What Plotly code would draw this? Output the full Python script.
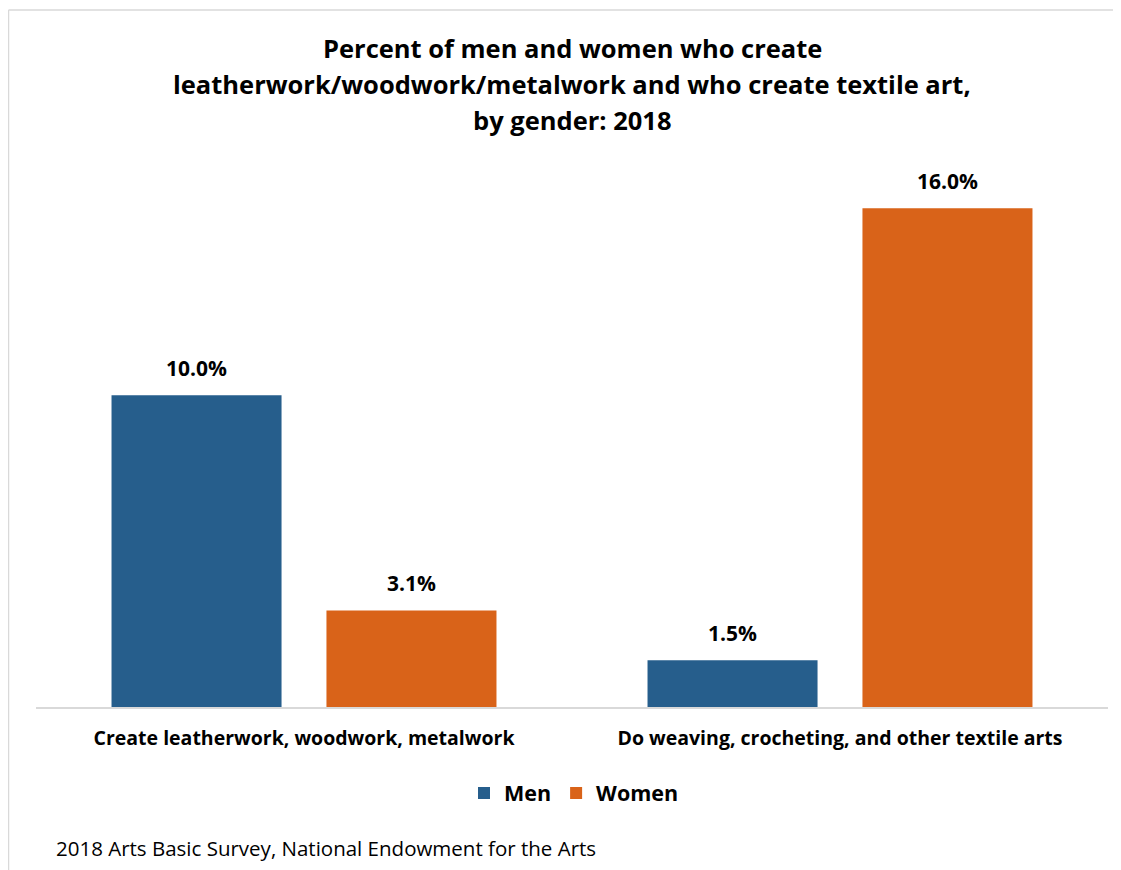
import plotly.graph_objects as go

categories = ["Create leatherwork, woodwork, metalwork",
              "Do weaving, crocheting, and other textile arts"]
men = [10.0, 1.5]
women = [3.1, 16.0]
series_names = ["Men", "Women"]
colors = ["#265E8C", "#D96319"]
title_lines = ["Percent of men and women who create",
               "leatherwork/woodwork/metalwork and who create textile art,",
               "by gender: 2018"]
source = "2018 Arts Basic Survey, National Endowment for the Arts"

OFF = 8  # page body margin
W, H = 1121 - OFF, 870 - OFF
L = 36 - OFF
R = W - (1108 - OFF)
T = 146 - OFF
B = H - (707 - OFF)
PH = H - T - B
PW = W - L - R
FONT = "Open Sans"

def px_y(Y):
    return (H - B - (Y - OFF)) / PH

def px_x(X):
    return ((X - OFF) - L) / PW

fig = go.Figure()
for name, vals, col in zip(series_names, [men, women], colors):
    fig.add_trace(go.Bar(x=categories, y=vals, name=f"<b>{name}</b>", marker_color=col,
                         marker_line_width=0))

slot = 215
anns = []
for i, vals in enumerate([men, women]):
    shift = (-0.5 if i == 0 else 0.5) * slot
    for c, v in zip(categories, vals):
        anns.append(dict(x=c, y=v, xref="x", yref="y", text=f"<b>{v:.1f}%</b>",
                         showarrow=False, xshift=shift, yanchor="bottom", yshift=11,
                         font=dict(family=FONT, size=21, color="#000000")))

for line, Y in zip(title_lines, [48, 84, 120]):
    anns.append(dict(x=px_x(572), y=px_y(Y), xref="paper", yref="paper",
                     text=f"<b>{line}</b>", showarrow=False, xanchor="center",
                     yanchor="middle", font=dict(family=FONT, size=25.5, color="#000000")))

anns.append(dict(x=px_x(54), y=px_y(848), xref="paper", yref="paper", text=source,
                 showarrow=False, xanchor="left", yanchor="middle",
                 font=dict(family=FONT, size=20.5, color="#000000")))

shapes = [
    dict(type="line", xref="paper", yref="paper", x0=px_x(8.5), x1=px_x(1121),
         y0=px_y(10), y1=px_y(10), line=dict(color="#D9D9D9", width=1.5)),
    dict(type="line", xref="paper", yref="paper", x0=px_x(8.5), x1=px_x(8.5),
         y0=px_y(10), y1=px_y(870), line=dict(color="#D9D9D9", width=1.5)),
]

fig.update_layout(
    width=W, height=H,
    margin=dict(l=L, r=R, t=T, b=B, autoexpand=False),
    paper_bgcolor="white", plot_bgcolor="white",
    barmode="group", bargap=0.198, bargroupgap=0.209,
    showlegend=True,
    legend=dict(orientation="h", x=px_x(574), xanchor="center", y=px_y(793), yanchor="middle",
                font=dict(family=FONT, size=21.5, color="#000000"),
                traceorder="normal"),
    annotations=anns, shapes=shapes,
    xaxis=dict(showline=True, linecolor="#D9D9D9", linewidth=2, ticks="",
               tickvals=categories, ticktext=[f"<b>{c}</b>" for c in categories],
               tickfont=dict(family=FONT, size=19.5, color="#000000"),
               ticklabelstandoff=13),
    yaxis=dict(range=[0, 18], visible=False, showgrid=False, zeroline=False),
    font=dict(family=FONT),
)

fig.write_html("out.html")
